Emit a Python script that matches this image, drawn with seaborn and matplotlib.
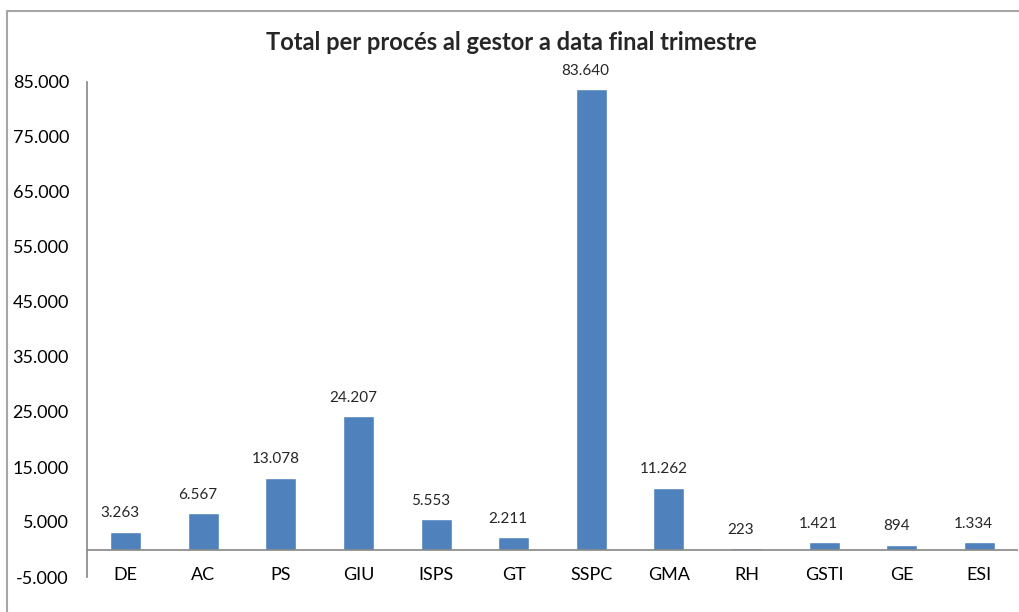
import numpy as np
import pandas as pd
import matplotlib
matplotlib.use("Agg")
import matplotlib.pyplot as plt
from matplotlib.lines import Line2D
from matplotlib.ticker import FuncFormatter
import seaborn as sns

# Data
processos = ["DE", "AC", "PS", "GIU", "ISPS", "GT", "SSPC", "GMA", "RH", "GSTI", "GE", "ESI"]
totals = [3263, 6567, 13078, 24207, 5553, 2211, 83640, 11262, 223, 1421, 894, 1334]
y_ticks = [-5000, 5000, 15000, 25000, 35000, 45000, 55000, 65000, 75000, 85000]
title = "Total per procés al gestor a data final trimestre"

df = pd.DataFrame({"proces": processos, "total": totals})

sns.set_style("white")
plt.rcParams["font.family"] = ["Lato", "DejaVu Sans"]

W, H = 1019, 612
fig = plt.figure(figsize=(W / 100, H / 100), dpi=100)

# outer chart frame: only top and left edges show in the screenshot
fx, fy = 6.5 / W, 1 - 10.5 / H
fig.add_artist(Line2D([fx, 1.0], [fy, fy], transform=fig.transFigure,
                      color="#a6a6a6", linewidth=1.5))
fig.add_artist(Line2D([fx, fx], [0.0, fy], transform=fig.transFigure,
                      color="#a6a6a6", linewidth=1.5))

ax = fig.add_axes([87 / W, 1 - 577 / H, (1018 - 87) / W, (577 - 82) / H])

sns.barplot(data=df, x="proces", y="total", color="#4f81bd", width=0.4,
            saturation=1, ax=ax)

ax.set_ylim(-5000, 85000)
ax.set_xlim(-0.5, len(processos) - 0.5)
ax.set_yticks(y_ticks)
ax.yaxis.set_major_formatter(FuncFormatter(lambda v, p: f"{int(v):,}".replace(",", ".")))
ax.set_xlabel("")
ax.set_ylabel("")

for s in ["top", "right", "bottom"]:
    ax.spines[s].set_visible(False)
ax.spines["left"].set_color("#868686")
ax.spines["left"].set_linewidth(1.2)
ax.axhline(0, color="#868686", linewidth=1.2, zorder=3)

ax.tick_params(axis="y", length=0, pad=13, labelsize=13, labelcolor="black")
ax.tick_params(axis="x", length=0, pad=-7, labelsize=13, labelcolor="black")

for i, v in enumerate(totals):
    ax.annotate(f"{v:,}".replace(",", "."), (i, v), xytext=(-4, 8),
                textcoords="offset points", ha="center", va="bottom",
                fontsize=11)

fig.text(0.502, 1 - 42 / H, title, ha="center", va="center",
         fontsize=17, fontweight="bold")

fig.savefig("out.png", dpi=100)
